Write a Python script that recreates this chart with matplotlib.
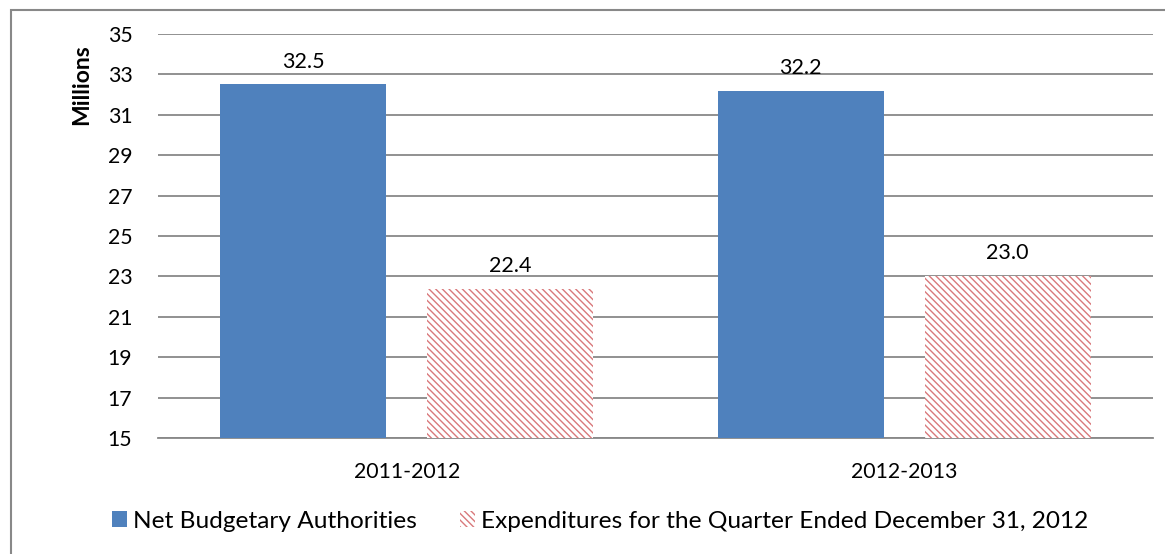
import matplotlib
matplotlib.use("Agg")
import matplotlib.pyplot as plt
from matplotlib.patches import Rectangle
import numpy as np

categories = ["2011-2012", "2012-2013"]
net_budget = [32.5, 32.2]
expenditures = [22.4, 23.0]
series_names = ["Net Budgetary Authorities",
                "Expenditures for the Quarter Ended December 31, 2012"]
yticks = [15, 17, 19, 21, 23, 25, 27, 29, 31, 33, 35]

plt.rcParams['font.family'] = ['Lato', 'DejaVu Sans']
plt.rcParams['hatch.linewidth'] = 1.0

W, H = 1165, 554
fig = plt.figure(figsize=(W / 100, H / 100), dpi=100)
ax = fig.add_axes([158 / W, 1 - 438 / H, (1153 - 158) / W, (438 - 34) / H])

x = np.arange(len(categories))
bw = 0.334
off = 0.208
b1 = ax.bar(x - off, net_budget, bw, color='#4F81BD', label=series_names[0], zorder=3)
b2 = ax.bar(x + off, expenditures, bw, facecolor='white', edgecolor='#D9797B', linewidth=0,
            hatch='\\\\\\\\\\', label=series_names[1], zorder=3)

ax.set_ylim(15, 35)
ax.set_xlim(-0.5, 1.5)
ax.set_yticks(yticks)
ax.set_xticks(x)
ax.set_xticklabels(categories)
ax.tick_params(axis='both', length=0, labelsize=15.3, colors='black')
ax.tick_params(axis='y', pad=18.5)
ax.tick_params(axis='x', pad=17)
ax.grid(axis='y', color='#888888', linewidth=1.3, zorder=0)
ax.set_axisbelow(True)
for s in ['left', 'right', 'top']:
    ax.spines[s].set_visible(False)
ax.spines['bottom'].set_color('#888888')
ax.spines['bottom'].set_linewidth(1.3)

for rects, vals in [(b1, net_budget), (b2, expenditures)]:
    for r, v in zip(rects, vals):
        ax.annotate(f"{v:.1f}", (r.get_x() + r.get_width() / 2, v),
                    xytext=(0, 12.2), textcoords='offset points', ha='center', va='baseline',
                    fontsize=15.5)

fig.text(82 / W, 1 - 85 / H, "Millions", rotation=90, ha='center', va='center',
         fontsize=16.5, fontweight='bold')

leg = fig.legend(handles=[b1, b2], labels=series_names, loc='center left',
                 bbox_to_anchor=(112 / W, 1 - 521 / H), ncol=2, frameon=False,
                 fontsize=17.6, handlelength=0.62, handleheight=0.65,
                 handletextpad=0.25, columnspacing=1.76, borderpad=0, borderaxespad=0)

fig.patches.append(Rectangle((11 / W, -0.05), 1.2, (1 - 10 / H) + 0.05,
                             transform=fig.transFigure, fill=False,
                             edgecolor='#888888', linewidth=1.5))

fig.savefig("out.png", dpi=100)
